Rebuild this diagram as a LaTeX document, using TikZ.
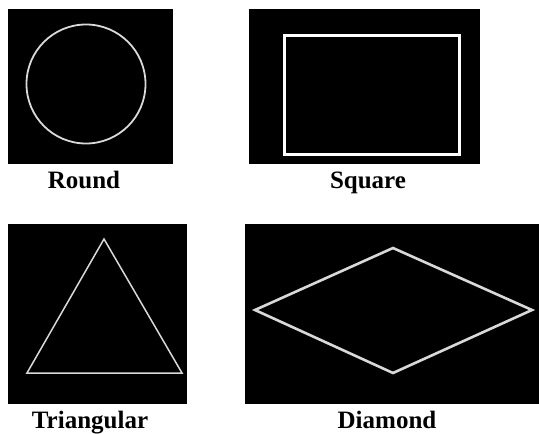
\documentclass[tikz,border=0pt]{standalone}
\usepackage{fontspec}
\setmainfont{Liberation Serif}
\begin{document}
\begin{tikzpicture}[x=1pt,y=-1pt,
  panel/.style={fill=black,draw=none},
  shapeline/.style={draw=black!15,line width=1.8pt},
  lbl/.style={anchor=base,font=\fontsize{25}{28}\selectfont\bfseries,inner sep=0pt}]
\useasboundingbox (0,0) rectangle (539,434);
% panels
\path[panel] (8,9) rectangle (173,164);
\path[panel] (249,9) rectangle (480,164);
\path[panel] (8,224) rectangle (187,404);
\path[panel] (245,224) rectangle (539,404);
% round
\node[circle,shapeline,minimum size=119pt,inner sep=0pt] (round) at (86,84) {};
% square
\node[draw=white,line width=3pt,minimum width=175pt,minimum height=119pt,inner sep=0pt] (square) at (371.5,94.5) {};
% triangle
\coordinate (ta) at (104,239);
\coordinate (tl) at (27,373);
\coordinate (tr) at (182,373);
\draw[draw=black!15,line width=1.5pt,line join=miter] (ta) -- (tr) -- (tl) -- cycle;
% diamond
\coordinate (dl) at (255,310);
\coordinate (dt) at (393,248);
\coordinate (dr) at (532,310);
\coordinate (db) at (393,373);
\draw[draw=black!15,line width=2.6pt] (dl) -- (dt) -- (dr) -- (db) -- cycle;
% labels
\node[lbl] (lround) at (84,188) {Round};
\node[lbl] (lsquare) at (368,188) {Square};
\node[lbl] (ltri) at (90,428) {Triangular};
\node[lbl] (ldia) at (387,428) {Diamond};
\end{tikzpicture}
\end{document}
